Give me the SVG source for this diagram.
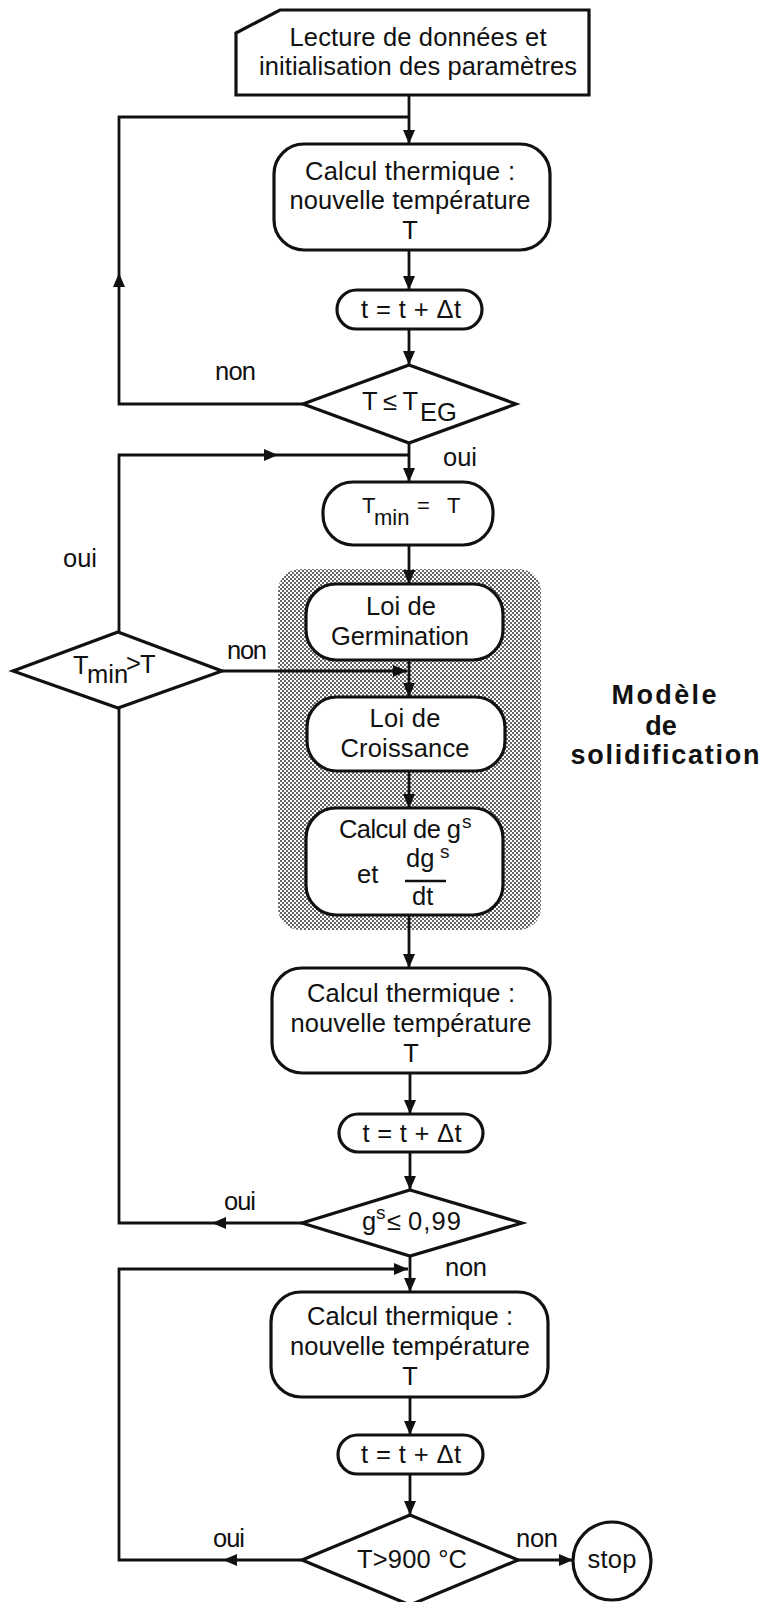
<svg xmlns="http://www.w3.org/2000/svg" width="763" height="1602" viewBox="0 0 763 1602">
<style>
text { font-family: "Liberation Sans", Arial, sans-serif; font-size: 25.5px; fill: #111; }
.c { text-anchor: middle; }
.b { font-weight: bold; font-size: 27px; }
.box { fill: #fff; stroke: #111; stroke-width: 3.2; }
.ln { fill: none; stroke: #111; stroke-width: 2.8; }
.arr { marker-end: url(#ah); }
.sm { font-size: 22px; }
.sup { font-size: 19px; }
</style>
<defs>
<marker id="ah" markerUnits="userSpaceOnUse" viewBox="0 0 14 12" refX="14" refY="6" markerWidth="14" markerHeight="12" orient="auto"><path d="M0,0 L14,6 L0,12 z" fill="#111"/></marker>
<pattern id="dots" width="4" height="4" patternUnits="userSpaceOnUse"><rect width="4" height="4" fill="#fff"/><rect width="2" height="2" fill="#666"/><rect x="2" y="2" width="2" height="2" fill="#666"/></pattern>
</defs>
<rect width="763" height="1602" fill="#fff"/>

<g id="solidification-model">
<rect x="278" y="569" width="263" height="361" rx="22" fill="url(#dots)"/>
<text class="c b" x="664" y="704" textLength="105">Modèle</text>
<text class="c b" x="661" y="735">de</text>
<text class="c b" x="665" y="764" textLength="189">solidification</text>
</g>

<g id="connectors">
<path class="ln arr" d="M409,95 V144"/>
<path class="ln arr" d="M409,250 V290"/>
<path class="ln arr" d="M409,329 V365"/>
<path class="ln arr" d="M303,404 H119 V273"/>
<path class="ln" d="M119,273 V117 H409"/>
<path class="ln arr" d="M409,443 V482"/>
<path class="ln arr" d="M119,632 V455 H278"/>
<path class="ln" d="M278,455 H409"/>
<path class="ln arr" d="M409,545 V584"/>
<path class="ln arr" d="M409,660 V697"/>
<path class="ln arr" d="M222,671 H407"/>
<path class="ln arr" d="M409,771 V808"/>
<path class="ln arr" d="M409,915 V968"/>
<path class="ln arr" d="M410,1073 V1114"/>
<path class="ln arr" d="M410,1152 V1190"/>
<path class="ln arr" d="M302,1223 H212"/>
<path class="ln" d="M212,1223 H119 V708"/>
<path class="ln arr" d="M410,1256 V1292"/>
<path class="ln arr" d="M302,1560 H223"/>
<path class="ln arr" d="M223,1560 H119 V1269 H408"/>
<path class="ln arr" d="M410,1397 V1435"/>
<path class="ln arr" d="M410,1474 V1515"/>
<path class="ln arr" d="M518,1560 H573"/>
<text x="215" y="380" textLength="41">non</text>
<text x="443" y="466" textLength="34">oui</text>
<text x="63" y="567" textLength="34">oui</text>
<text x="227" y="659" textLength="40">non</text>
<text x="224" y="1210" textLength="32">oui</text>
<text x="445" y="1276" textLength="42">non</text>
<text x="213" y="1547" textLength="32">oui</text>
<text x="516" y="1547" textLength="42">non</text>
</g>

<g id="n-input">
<polygon class="box" points="236,33 280,10 589,10 589,95 236,95"/>
<text class="c" x="418" y="46" textLength="257">Lecture de données et</text>
<text class="c" x="418" y="75" textLength="318">initialisation des paramètres</text>
</g>

<g id="n-thermal1">
<rect class="box" x="274" y="144" width="276" height="106" rx="30"/>
<text class="c" x="410" y="180" textLength="210">Calcul thermique :</text>
<text class="c" x="410" y="209" textLength="241">nouvelle température</text>
<text class="c" x="410" y="239">T</text>
</g>

<g id="n-time1">
<rect class="box" x="337" y="290" width="145" height="39" rx="19.5"/>
<text class="c" x="411" y="318" textLength="100">t = t + Δt</text>
</g>

<g id="n-test-teg">
<polygon class="box" points="409,365 516,404 409,443 303,404"/>
<text x="362" y="410" textLength="56">T ≤ T</text>
<text x="420" y="421" font-size="22">EG</text>
</g>

<g id="n-tmin">
<rect class="box" x="323" y="482" width="170" height="63" rx="30"/>
<text class="sm" x="362" y="513">T</text>
<text class="sm" x="374" y="525">min</text>
<text class="sm" x="417" y="513">=</text>
<text class="sm" x="447" y="513">T</text>
</g>

<g id="n-test-tmin">
<polygon class="box" points="118,632 222,671 118,708 13,671"/>
<text font-size="21" x="73" y="674">T</text>
<text font-size="20" x="87" y="683">min</text>
<text font-size="17" x="126" y="672">&gt;</text>
<text font-size="19" x="140" y="673">T</text>
</g>

<g id="n-germination">
<rect class="box" x="306" y="584" width="197" height="76" rx="30"/>
<text class="c" x="401" y="615" textLength="70">Loi de</text>
<text class="c" x="400" y="645" textLength="138">Germination</text>
</g>

<g id="n-croissance">
<rect class="box" x="307" y="697" width="198" height="74" rx="30"/>
<text class="c" x="405" y="727" textLength="71">Loi de</text>
<text class="c" x="405" y="757" textLength="129">Croissance</text>
</g>

<g id="n-gs">
<rect class="box" x="306" y="808" width="197" height="107" rx="30"/>
<text x="339" y="838" textLength="122">Calcul de g</text>
<text class="sup" x="462" y="828">s</text>
<text x="357" y="883">et</text>
<text x="406" y="867" font-size="26">dg</text>
<text class="sup" x="440" y="858">s</text>
<line x1="405" y1="881" x2="446" y2="881" stroke="#111" stroke-width="2.5"/>
<text x="412" y="905">dt</text>
</g>

<g id="n-thermal2">
<rect class="box" x="272" y="968" width="278" height="105" rx="30"/>
<text class="c" x="411" y="1002" textLength="208">Calcul thermique :</text>
<text class="c" x="411" y="1032" textLength="241">nouvelle température</text>
<text class="c" x="411" y="1062">T</text>
</g>

<g id="n-time2">
<rect class="box" x="339" y="1114" width="144" height="38" rx="19"/>
<text class="c" x="412" y="1142" textLength="99">t = t + Δt</text>
</g>

<g id="n-test-gs">
<polygon class="box" points="410,1190 522,1223 410,1256 302,1223"/>
<text x="362" y="1230">g</text>
<text class="sup" x="376" y="1219">s</text>
<text x="387" y="1230">≤</text>
<text x="408" y="1230" textLength="53">0,99</text>
</g>

<g id="n-thermal3">
<rect class="box" x="271" y="1292" width="277" height="105" rx="30"/>
<text class="c" x="410" y="1325" textLength="206">Calcul thermique :</text>
<text class="c" x="410" y="1355" textLength="240">nouvelle température</text>
<text class="c" x="410" y="1385">T</text>
</g>

<g id="n-time3">
<rect class="box" x="338" y="1435" width="145" height="39" rx="19.5"/>
<text class="c" x="411" y="1463" textLength="100">t = t + Δt</text>
</g>

<g id="n-test-900">
<polygon class="box" points="410,1515 518,1560 410,1605 302,1560"/>
<text class="c" x="412" y="1568" textLength="110">T&gt;900 °C</text>
</g>

<g id="n-stop">
<circle class="box" cx="612" cy="1561" r="39"/>
<text class="c" x="612" y="1568" textLength="49">stop</text>
</g>
</svg>
